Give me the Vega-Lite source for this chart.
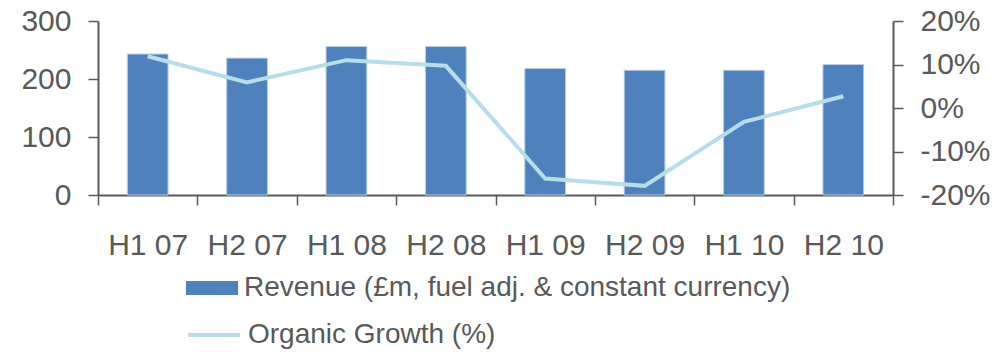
{
  "$schema": "https://vega.github.io/schema/vega-lite/v6.json",
  "width": 795,
  "height": 174,
  "autosize": {"type": "none"},
  "padding": {"left": 98, "top": 21, "right": 112, "bottom": 160},
  "background": "white",
  "config": {
    "view": {"stroke": null},
    "font": "Liberation Sans",
    "axis": {
      "grid": false,
      "title": null,
      "domainColor": "#595959",
      "domainWidth": 2,
      "tickColor": "#595959",
      "tickWidth": 1.5,
      "tickSize": 10,
      "labelColor": "#595959",
      "labelFont": "Liberation Sans",
      "labelFontSize": 30
    },
    "legend": {
      "labelFont": "Liberation Sans",
      "labelFontSize": 28,
      "labelColor": "#595959",
      "labelLimit": 1000,
      "labelOffset": 6,
      "padding": 0,
      "title": null
    }
  },
  "data": {
    "values": [
      {"period": "H1 07", "revenue": 243, "growth": 11.9},
      {"period": "H2 07", "revenue": 236, "growth": 5.9},
      {"period": "H1 08", "revenue": 256, "growth": 11.0},
      {"period": "H2 08", "revenue": 256, "growth": 9.7},
      {"period": "H1 09", "revenue": 218, "growth": -16.2},
      {"period": "H2 09", "revenue": 215, "growth": -17.9},
      {"period": "H1 10", "revenue": 215, "growth": -3.2},
      {"period": "H2 10", "revenue": 225, "growth": 2.7}
    ]
  },
  "encoding": {
    "x": {
      "field": "period",
      "type": "nominal",
      "sort": null,
      "scale": {"paddingInner": 0, "paddingOuter": 0},
      "axis": {
        "labelAngle": 0,
        "tickBand": "extent",
        "labelPadding": 25
      }
    }
  },
  "layer": [
    {
      "mark": {"type": "bar", "width": {"band": 0.41}, "stroke": "#B9CDE5", "strokeWidth": 1},
      "encoding": {
        "y": {
          "field": "revenue",
          "type": "quantitative",
          "scale": {"domain": [0, 300], "nice": false},
          "axis": {"orient": "left", "values": [0, 100, 200, 300], "labelPadding": 17}
        },
        "fill": {
          "datum": "Revenue (£m, fuel adj. & constant currency)",
          "type": "nominal",
          "scale": {"range": ["#4F81BD"]},
          "legend": {
            "orient": "none",
            "legendX": 88,
            "legendY": 241,
            "symbolType": "M-1,-0.27H1V0.27H-1Z",
            "symbolSize": 2704,
            "symbolStrokeWidth": 0
          }
        }
      }
    },
    {
      "mark": {"type": "line", "strokeWidth": 4},
      "encoding": {
        "y": {
          "field": "growth",
          "type": "quantitative",
          "scale": {"domain": [-20, 20], "nice": false},
          "axis": {
            "orient": "right",
            "values": [-20, -10, 0, 10, 20],
            "labelExpr": "datum.value + '%'",
            "labelPadding": 17
          }
        },
        "stroke": {
          "datum": "Organic Growth (%)",
          "type": "nominal",
          "scale": {"range": ["#B7DEE8"]},
          "legend": {
            "orient": "none",
            "legendX": 88,
            "legendY": 286,
            "symbolType": "stroke",
            "symbolSize": 2704,
            "symbolStrokeWidth": 4
          }
        }
      }
    }
  ],
  "resolve": {"scale": {"y": "independent"}}
}
